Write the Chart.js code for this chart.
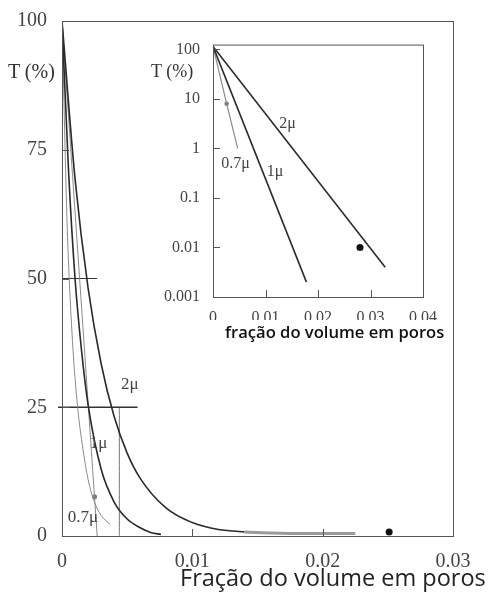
<!DOCTYPE html>
<html>
<head>
<meta charset="utf-8">
<script src="https://cdn.jsdelivr.net/npm/chart.js@4.4.0/dist/chart.umd.min.js"></script>
<style>
  html, body { margin: 0; padding: 0; background: #fff; }
  #wrap { position: relative; width: 491px; height: 596px; }
  #mainChart { position: absolute; left: 0; top: 0; }
  #insetChart { position: absolute; left: 150px; top: 30px; background: #fff; }
  .lbl { position: absolute; white-space: nowrap; color: #333; }
  .serif { font-family: "Liberation Serif", "DejaVu Serif", serif; }
</style>
</head>
<body>
<div id="wrap">
  <canvas id="mainChart" width="491" height="596"></canvas>
  <canvas id="insetChart" width="290" height="290"></canvas>
  <div class="lbl serif" style="left:8px; top:60px; font-size:20px;">T (%)</div>
  <div class="lbl serif" style="left:151px; top:61px; font-size:18px;">T (%)</div>
  <div class="lbl" style="left:225px; top:320px; font-family:'Open Sans'; font-weight:600; font-size:16.6px; color:#111;">fração do volume em poros</div>
  <div class="lbl" style="left:180px; top:561px; font-family:'Open Sans'; font-size:23.5px; color:#222;">Fração do volume em poros</div>
</div>
<script>
// main chart: transmission vs pore volume fraction (linear)
const mainXTicks = [0, 0.01, 0.02, 0.03];
const mainYTicks = [0, 25, 50, 75, 100];

const x2mu = [0, 0.001, 0.002, 0.003, 0.004, 0.005, 0.006, 0.008, 0.010, 0.012, 0.014, 0.016, 0.019, 0.0225];
const t2mu = [100, 69.4, 48.2, 33.5, 23.2, 16.1, 11.2, 5.4, 2.6, 1.25, 0.8, 0.6, 0.5, 0.5];

const x1mu = [0, 0.0005, 0.001, 0.0015, 0.002, 0.003, 0.004, 0.005, 0.006, 0.0068, 0.0076];
const t1mu = [100, 71, 50, 36, 25.5, 13, 6.6, 3.3, 1.6, 0.7, 0.3];

const x07mu = [0, 0.0004, 0.0008, 0.0012, 0.0016, 0.002, 0.0025, 0.003, 0.0037];
const t07mu = [100, 60, 38, 25, 17, 11, 6.5, 4, 2.2];

const xStraight = [0, 0.0027];
const tStraight = [100, 0];

const xGuide50 = [0, 0.0027];
const tGuide50 = [50, 50];
const xGuide25 = [-0.0003, 0.0058];
const tGuide25 = [25, 25];
const xGuideV = [0.0044, 0.0044];
const tGuideV = [0, 25];

const markerMain = { x: 0.0025, y: 7.6 };
const dotMain = { x: 0.0251, y: 0.8 };

const mainLabels = ['2μ', '1μ', '0.7μ'];
const mainLabelX = [0.0052, 0.0028, 0.0016];
const mainLabelY = [29.5, 18, 3.6];

// inset: same data on a log scale
const insetXTicks = [0, 0.01, 0.02, 0.03, 0.04];
const insetYTicks = [0.001, 0.01, 0.1, 1, 10, 100];

const xIn2mu = [0, 0.0328];
const tIn2mu = [115, 0.004];
const xIn1mu = [0, 0.0178];
const tIn1mu = [115, 0.002];
const xIn07mu = [0, 0.0026, 0.0047];
const tIn07mu = [115, 8, 1];

const markerInset = { x: 0.0026, y: 8 };
const dotInset = { x: 0.028, y: 0.01 };

const insetLabels = ['2μ', '1μ', '0.7μ'];
const insetLabelX = [0.0142, 0.0118, 0.0043];
const insetLabelY = [3.1, 0.34, 0.5];

const pts = (xs, ys) => xs.map((x, i) => ({ x, y: ys[i] }));
const serif = '"Liberation Serif", "DejaVu Serif", serif';

// inward ticks + box around plot area + curve labels
function framePlugin(opts) {
  return {
    id: 'frame',
    afterDatasetsDraw(chart) {
      const { ctx, chartArea: a, scales } = chart;
      ctx.save();
      ctx.strokeStyle = '#555';
      ctx.lineWidth = 1;
      ctx.strokeRect(a.left + 0.5, a.top + 0.5, a.right - a.left, a.bottom - a.top);
      ctx.beginPath();
      scales.x.ticks.forEach(t => {
        const px = Math.round(scales.x.getPixelForValue(t.value)) + 0.5;
        ctx.moveTo(px, a.bottom);
        ctx.lineTo(px, a.bottom - opts.tick);
      });
      scales.y.ticks.forEach(t => {
        const py = Math.round(scales.y.getPixelForValue(t.value)) + 0.5;
        ctx.moveTo(a.left, py);
        ctx.lineTo(a.left + opts.tick, py);
      });
      ctx.stroke();
      ctx.fillStyle = '#444';
      ctx.font = opts.labelFont;
      ctx.textAlign = 'center';
      ctx.textBaseline = 'middle';
      opts.labels.forEach((txt, i) => {
        ctx.fillText(txt, scales.x.getPixelForValue(opts.lx[i]), scales.y.getPixelForValue(opts.ly[i]));
      });
      ctx.restore();
    }
  };
}

function lineSet(data, color, width, extra) {
  return Object.assign({
    data, borderColor: color, borderWidth: width, pointRadius: 0,
    fill: false, cubicInterpolationMode: 'monotone'
  }, extra || {});
}

new Chart(document.getElementById('mainChart'), {
  type: 'line',
  data: {
    datasets: [
      lineSet(pts(x2mu, t2mu), '#2a2a2a', 1.6, {
        segment: {
          borderColor: c => c.p0.parsed.x >= 0.013 ? '#9a9a9a' : undefined,
          borderWidth: c => c.p0.parsed.x >= 0.013 ? 3 : undefined
        }
      }),
      lineSet(pts(x1mu, t1mu), '#2a2a2a', 1.6),
      lineSet(pts(x07mu, t07mu), '#8a8a8a', 1),
      lineSet(pts(xStraight, tStraight), '#8a8a8a', 1),
      lineSet(pts(xGuide50, tGuide50), '#333', 1.2),
      lineSet(pts(xGuide25, tGuide25), '#333', 1.4, { clip: false }),
      lineSet(pts(xGuideV, tGuideV), '#777', 1),
      { type: 'scatter', data: [markerMain], pointRadius: 2.5, backgroundColor: '#777', borderWidth: 0 },
      { type: 'scatter', data: [dotMain], pointRadius: 3.5, backgroundColor: '#111', borderWidth: 0 }
    ]
  },
  options: {
    responsive: false,
    animation: false,
    layout: { padding: { top: 21, right: 38, left: 0, bottom: 0 } },
    plugins: { legend: { display: false }, tooltip: { enabled: false } },
    scales: {
      x: {
        type: 'linear', min: 0, max: 0.03,
        grid: { display: false },
        border: { display: false },
        afterBuildTicks: s => { s.ticks = mainXTicks.map(v => ({ value: v })); },
        afterFit: s => { s.height = 60; },
        ticks: { padding: 6, color: '#444', font: { family: serif, size: 20 }, callback: v => String(v), maxRotation: 0 }
      },
      y: {
        type: 'linear', min: 0, max: 100,
        grid: { display: false },
        border: { display: false },
        afterBuildTicks: s => { s.ticks = mainYTicks.map(v => ({ value: v })); },
        afterFit: s => { s.width = 62; },
        ticks: { padding: 7, color: '#444', font: { family: serif, size: 20 }, callback: v => String(v) }
      }
    }
  },
  plugins: [framePlugin({ tick: 7, labels: mainLabels, lx: mainLabelX, ly: mainLabelY, labelFont: '17px ' + serif })]
});

new Chart(document.getElementById('insetChart'), {
  type: 'line',
  data: {
    datasets: [
      lineSet(pts(xIn2mu, tIn2mu), '#2a2a2a', 1.6),
      lineSet(pts(xIn1mu, tIn1mu), '#2a2a2a', 1.6),
      lineSet(pts(xIn07mu, tIn07mu), '#8a8a8a', 1.2, { cubicInterpolationMode: 'default', tension: 0 }),
      { type: 'scatter', data: [markerInset], pointRadius: 2.2, backgroundColor: '#777', borderWidth: 0 },
      { type: 'scatter', data: [dotInset], pointRadius: 3.5, backgroundColor: '#111', borderWidth: 0 }
    ]
  },
  options: {
    responsive: false,
    animation: false,
    layout: { padding: { top: 13, right: 16, left: 0, bottom: 0 } },
    plugins: { legend: { display: false }, tooltip: { enabled: false } },
    scales: {
      x: {
        type: 'linear', min: 0, max: 0.04,
        grid: { display: false },
        border: { display: false },
        afterBuildTicks: s => { s.ticks = insetXTicks.map(v => ({ value: v })); },
        afterFit: s => { s.height = 23; },
        ticks: { padding: 3, color: '#444', font: { family: serif, size: 16 }, callback: v => String(v), maxRotation: 0 }
      },
      y: {
        type: 'logarithmic', min: 0.001, max: 125,
        grid: { display: false },
        border: { display: false },
        afterBuildTicks: s => { s.ticks = insetYTicks.map(v => ({ value: v })); },
        afterFit: s => { s.width = 63; },
        ticks: { padding: 5, color: '#444', font: { family: serif, size: 16 }, callback: v => String(v) }
      }
    }
  },
  plugins: [framePlugin({ tick: 7, labels: insetLabels, lx: insetLabelX, ly: insetLabelY, labelFont: '16px ' + serif })]
});
</script>
</body>
</html>
